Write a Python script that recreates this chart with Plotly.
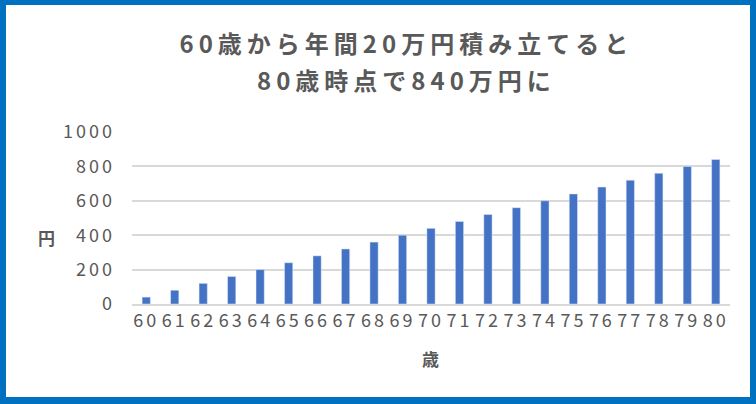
import plotly.graph_objects as go

ages = [str(a) for a in range(60, 81)]
amounts = [40, 80, 120, 160, 200, 240, 280, 320, 360, 400, 440, 480,
           520, 560, 600, 640, 680, 720, 760, 800, 840]
title_line1 = "60歳から年間20万円積み立てると"
title_line2 = "80歳時点で840万円に"
y_ticks = [0, 200, 400, 600, 800, 1000]

W, H = 756, 404
L, R, T, B = 132, 26, 132, 100
pw, ph = W - L - R, H - T - B

def px_x(px):
    return (px - L) / pw

def px_y(py):
    return (H - B - py) / ph

FONT = "Noto Sans CJK JP"
GRAY = "#595959"

fig = go.Figure(go.Bar(x=ages, y=amounts, marker_color="#4472C4", width=0.29))

fig.update_layout(
    width=W, height=H,
    margin=dict(l=L, r=R, t=T, b=B),
    paper_bgcolor="#0070C0",
    plot_bgcolor="white",
    font=dict(family=FONT, color=GRAY),
    showlegend=False,
    shapes=[dict(type="rect", xref="paper", yref="paper",
                 x0=px_x(6), x1=px_x(750), y0=px_y(397), y1=px_y(5),
                 fillcolor="white", line_width=0, layer="below")],
)

def label(text, x, y, size):
    fig.add_annotation(text=text, xref="paper", yref="paper",
                       x=px_x(x), y=px_y(y), xanchor="center", yanchor="middle",
                       showarrow=False, font=dict(size=size, color=GRAY, family=FONT))

label(f"<b>{title_line1}</b>", 406, 42, 24)
label(f"<b>{title_line2}</b>", 406, 80, 24)
label("<b>円</b>", 46, 237, 17)
label("<b>歳</b>", 430, 358, 17)

fig.update_xaxes(
    type="category", showgrid=False, showline=True, linecolor="#D9D9D9", linewidth=1.5,
    tickfont=dict(size=18, color=GRAY), ticks="",
)
fig.update_yaxes(
    range=[0, 1000], tickvals=y_ticks, showgrid=True, gridcolor="#D9D9D9", gridwidth=1.5,
    zeroline=False, tickfont=dict(size=18, color=GRAY), ticklabelstandoff=16,
)

post = """
document.body.style.margin='0';
var gd = document.getElementsByClassName('plotly-graph-div')[0];
gd.querySelectorAll('.annotation-text').forEach(function(t){
  if (t.textContent.length > 3) t.style.letterSpacing='5px';
});
gd.querySelectorAll('.xtick text').forEach(function(t){ t.style.letterSpacing='3px'; });
gd.querySelectorAll('.ytick text').forEach(function(t){ t.style.letterSpacing='3px'; });
"""
fig.write_html("out.html", post_script=post, config={"displayModeBar": False})
